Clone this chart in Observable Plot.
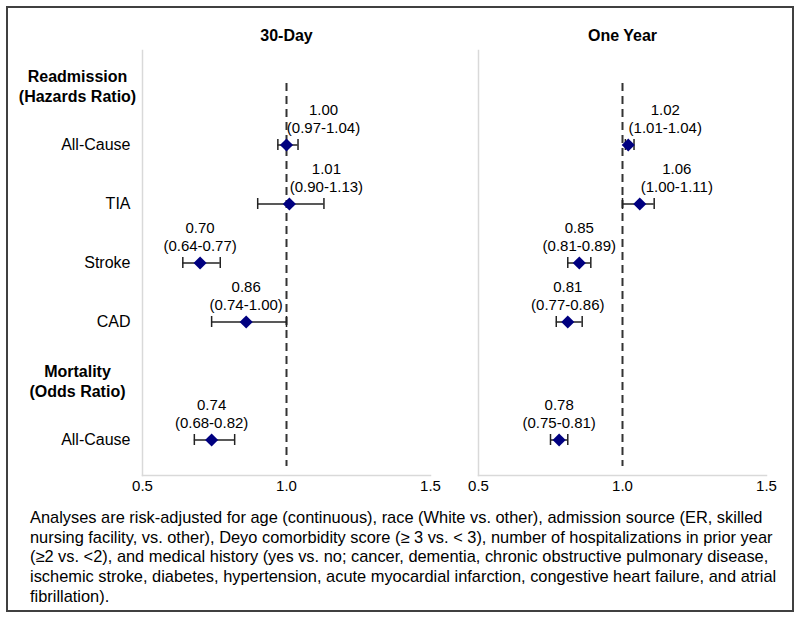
<!DOCTYPE html>
<html>
<head>
<meta charset="utf-8">
<script src="https://cdn.jsdelivr.net/npm/d3@7"></script>
<script src="https://cdn.jsdelivr.net/npm/@observablehq/plot@0.6"></script>
<style>
  html, body { margin: 0; padding: 0; background: #fff; }
  body { width: 800px; height: 618px; position: relative; overflow: hidden; font-family: "Liberation Sans", Arial, sans-serif; }
  #box { position: absolute; left: 6px; top: 6px; width: 784px; height: 602px; border: 2px solid #404040; }
  #chart { position: absolute; left: 0; top: 0; }
  #note { position: absolute; left: 30px; top: 508px; font-size: 16.4px; line-height: 19.7px; color: #000; }
  #note div { white-space: nowrap; }
</style>
</head>
<body>
<div id="box"></div>
<div id="chart"></div>
<div id="note"></div>
<script>
// ---- data ----
const panels = ["30-Day", "One Year"];
const groups = ["Readmission", "Mortality"];
const groupLabels = ["Readmission\n(Hazards Ratio)", "Mortality\n(Odds Ratio)"];
const outcomes = ["All-Cause", "TIA", "Stroke", "CAD", "All-Cause"];
const outcomeGroup = ["Readmission", "Readmission", "Readmission", "Readmission", "Mortality"];
const hr30 = [1.00, 1.01, 0.70, 0.86, 0.74];
const lo30 = [0.97, 0.90, 0.64, 0.74, 0.68];
const hi30 = [1.04, 1.13, 0.77, 1.00, 0.82];
const hr1y = [1.02, 1.06, 0.85, 0.81, 0.78];
const lo1y = [1.01, 1.00, 0.81, 0.77, 0.75];
const hi1y = [1.04, 1.11, 0.89, 0.86, 0.81];
const xTicks = [0.5, 1.0, 1.5];
const noteLines = [
  "Analyses are risk-adjusted for age (continuous), race (White vs. other), admission source (ER, skilled",
  "nursing facility, vs. other), Deyo comorbidity score (\u2265 3 vs. < 3), number of hospitalizations in prior year",
  "(\u22652 vs. <2), and medical history (yes vs. no; cancer, dementia, chronic obstructive pulmonary disease,",
  "ischemic stroke, diabetes, hypertension, acute myocardial infarction, congestive heart failure, and atrial",
  "fibrillation)."
];

// ---- build table ----
const rowKey = (g, o) => g + "|" + o;
const rowOrder = [];
const headerRows = [];
groups.forEach((g, gi) => {
  rowOrder.push(g + "|header");
  headerRows.push({key: g + "|header", label: groupLabels[gi]});
  outcomes.forEach((o, i) => { if (outcomeGroup[i] === g) rowOrder.push(rowKey(g, o)); });
});
const outcomeRows = outcomes.map((o, i) => ({key: rowKey(outcomeGroup[i], o), label: o}));
const est = [];
outcomes.forEach((o, i) => {
  est.push({panel: panels[0], key: rowKey(outcomeGroup[i], o), hr: hr30[i], lo: lo30[i], hi: hi30[i]});
  est.push({panel: panels[1], key: rowKey(outcomeGroup[i], o), hr: hr1y[i], lo: lo1y[i], hi: hi1y[i]});
});
const f2 = v => v.toFixed(2);

const labelsRight = est.filter(d => d.hr >= 1);
const labelsCenter = est.filter(d => d.hr < 1);
const labelText = d => `${f2(d.hr)}\n(${f2(d.lo)}-${f2(d.hi)})`;

const chart = Plot.plot({
  width: 800,
  height: 500,
  marginLeft: 142,
  marginRight: 34,
  marginTop: 50,
  marginBottom: 25,
  style: {fontFamily: "'Liberation Sans', Arial, sans-serif", color: "#000", background: "transparent"},
  fx: {domain: panels, paddingInner: 0.143, paddingOuter: 0, axis: null},
  x: {domain: [0.5, 1.5], axis: null},
  y: {domain: rowOrder, type: "band", paddingInner: 0, paddingOuter: 0.1, axis: null},
  marks: [
    Plot.frame({anchor: "left", stroke: "#d9d9d9", strokeWidth: 1.5}),
    Plot.frame({anchor: "bottom", stroke: "#d9d9d9", strokeWidth: 1.5}),
    Plot.axisX({ticks: xTicks, tickFormat: d3.format(".1f"), tickSize: 0, tickPadding: 5, fontSize: 15, label: null}),
    Plot.ruleX([1], {stroke: "#333", strokeWidth: 2, strokeDasharray: "8,5", insetTop: 33, insetBottom: 9}),
    Plot.text(panels, {fx: d => d, text: d => d, frameAnchor: "top", lineAnchor: "middle", dy: -15, fontWeight: "bold", fontSize: 16}),
    Plot.text(headerRows, {fx: () => panels[0], y: "key", text: "label", frameAnchor: "left", dx: -65, textAnchor: "middle", fontWeight: "bold", fontSize: 16, lineHeight: 1.25}),
    Plot.text(outcomeRows, {fx: () => panels[0], y: "key", text: "label", frameAnchor: "left", dx: -12, textAnchor: "end", fontSize: 16}),
    Plot.ruleY(est, {fx: "panel", y: "key", x1: "lo", x2: "hi", stroke: "#222", strokeWidth: 1.5}),
    Plot.tickX(est, {fx: "panel", y: "key", x: "lo", stroke: "#222", strokeWidth: 1.5, insetTop: 24, insetBottom: 24}),
    Plot.tickX(est, {fx: "panel", y: "key", x: "hi", stroke: "#222", strokeWidth: 1.5, insetTop: 24, insetBottom: 24}),
    Plot.dot(est, {fx: "panel", y: "key", x: "hr", symbol: "diamond2", r: 5.9, fill: "#000080", stroke: "none"}),
    Plot.text(labelsCenter, {fx: "panel", y: "key", x: "hr", text: labelText, dy: -27, fontSize: 15, lineHeight: 1.2}),
    Plot.text(labelsRight, {fx: "panel", y: "key", x: "hr", text: labelText, dy: -27, dx: 37, fontSize: 15, lineHeight: 1.2})
  ]
});
document.getElementById("chart").appendChild(chart);

const note = document.getElementById("note");
noteLines.forEach(t => { const d = document.createElement("div"); d.textContent = t; note.appendChild(d); });
</script>
</body>
</html>
